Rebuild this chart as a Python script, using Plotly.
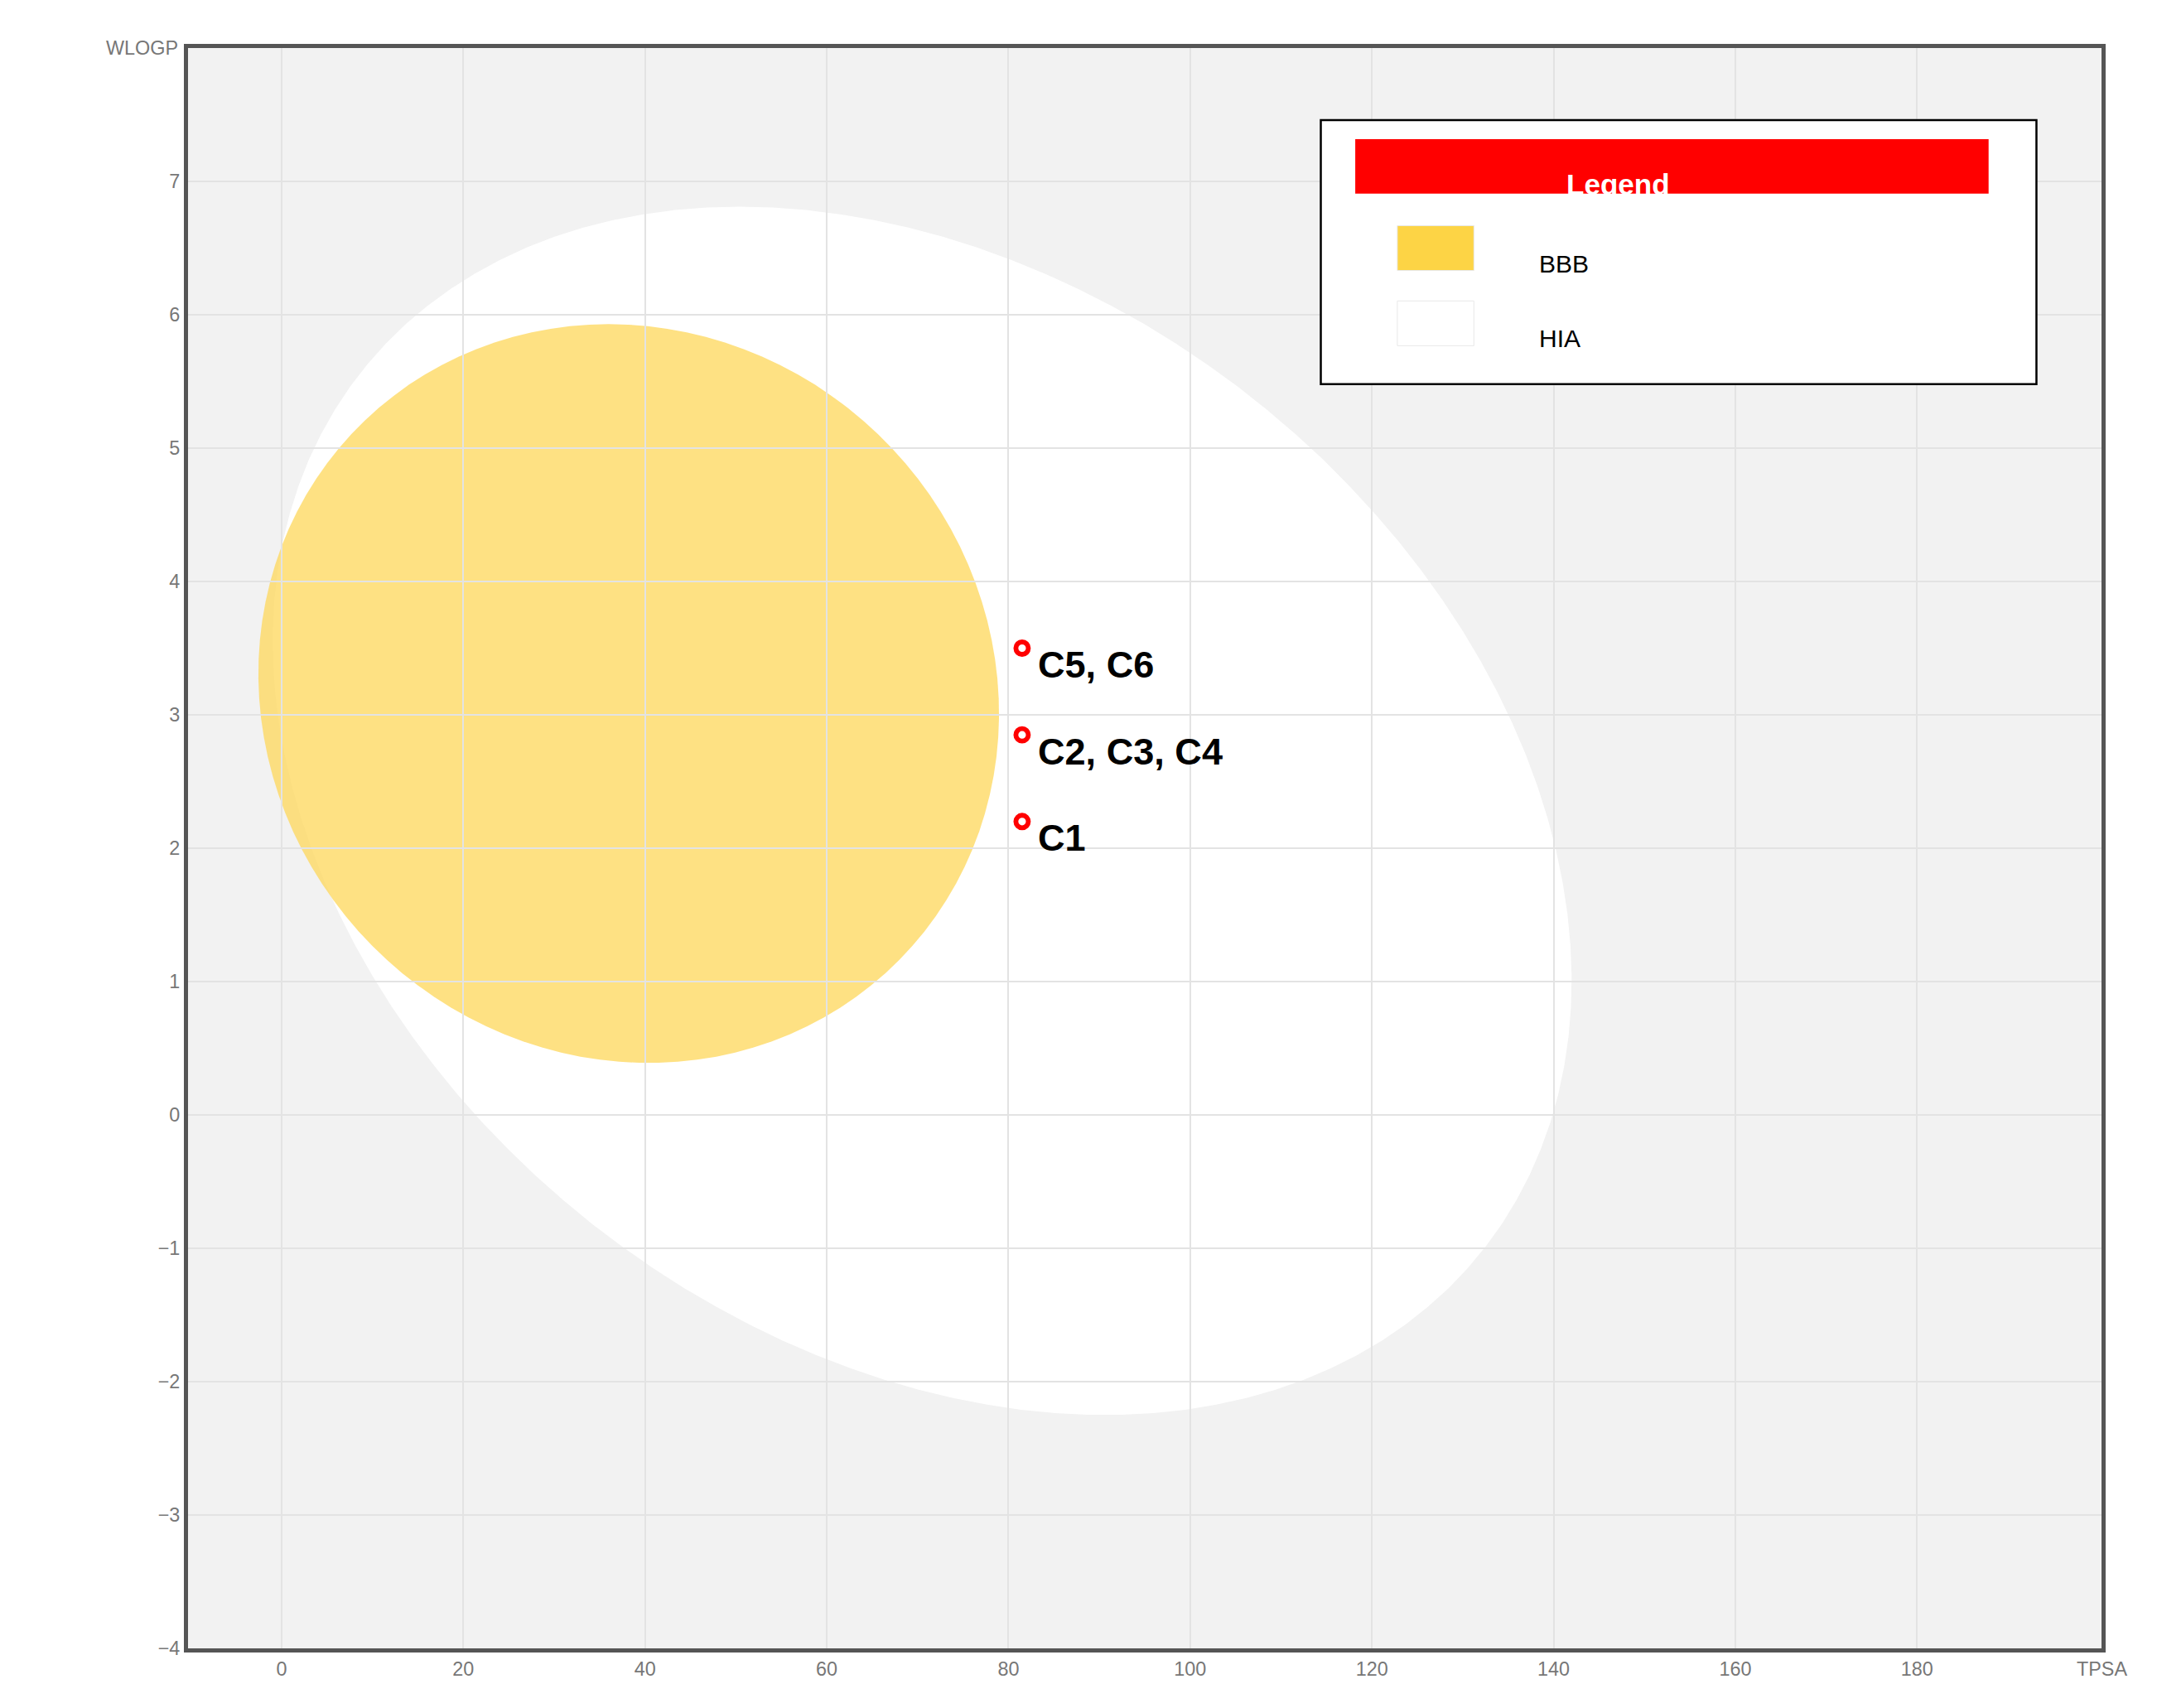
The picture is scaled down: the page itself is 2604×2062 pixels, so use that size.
import numpy as np
import plotly.graph_objects as go

# molecules (TPSA, WLOGP)
tpsa = [81.5, 81.5, 81.5]
wlogp = [3.5, 2.85, 2.2]
labels = ["C5, C6", "C2, C3, C4", "C1"]

# ellipse regions: center, conjugate half-axis vectors
bbb = dict(center=(38.2, 3.16), a=(-2.2, 2.77), b=(40.7, 0.0))
hia = dict(center=(70.5, 2.28), a=(-20.1, 4.53), b=(68.6, 0.0))

x_ticks = list(range(0, 181, 20))
y_ticks = list(range(-4, 8))

S = 1.67


def ellipse_path(e, n=120):
    t = np.linspace(0, 2 * np.pi, n)
    cx, cy = e["center"]
    xs = cx + e["a"][0] * np.cos(t) + e["b"][0] * np.sin(t)
    ys = cy + e["a"][1] * np.cos(t) + e["b"][1] * np.sin(t)
    return "M " + " L ".join(f"{x:.3f},{y:.3f}" for x, y in zip(xs, ys)) + " Z"


fig = go.Figure()
fig.add_trace(go.Scatter(
    x=tpsa, y=wlogp, mode="markers", showlegend=False,
    marker=dict(size=9 * S, color="white", line=dict(color="#ff0000", width=3.5 * S))))

fig.add_shape(type="path", path=ellipse_path(hia), fillcolor="white",
              line=dict(width=0), layer="below")
fig.add_shape(type="path", path=ellipse_path(bbb), fillcolor="rgba(253,215,90,0.75)",
              line=dict(width=0), layer="below")

for x, y, lab in zip(tpsa, wlogp, labels):
    fig.add_annotation(x=x, y=y, text=f"<b>{lab}</b>", showarrow=False,
                       xanchor="left", yanchor="middle", xshift=10 * S, yshift=-12 * S,
                       font=dict(size=27 * S, color="black", family="Arial"))

# custom legend
fig.add_shape(type="rect", xref="paper", yref="paper", x0=0.592, x1=0.966, y0=0.79, y1=0.955,
              line=dict(color="black", width=1.5 * S), fillcolor="white")
fig.add_shape(type="rect", xref="paper", yref="paper", x0=0.61, x1=0.941, y0=0.909, y1=0.943,
              line=dict(width=0), fillcolor="#ff0000")
fig.add_annotation(xref="paper", yref="paper", x=0.7755, y=0.926, text="<b>Legend</b>",
                   showarrow=False, font=dict(size=21 * S, color="white", family="Arial"))
for y0, col, lab in [(0.861, "#fdd445", "BBB"), (0.814, "white", "HIA")]:
    fig.add_shape(type="rect", xref="paper", yref="paper", x0=0.632, x1=0.672,
                  y0=y0, y1=y0 + 0.028, line=dict(color="#e8e8e8", width=1),
                  fillcolor=col)
    fig.add_annotation(xref="paper", yref="paper", x=0.705, y=y0 + 0.014, text=lab,
                       xanchor="left", showarrow=False,
                       font=dict(size=18 * S, color="black", family="Arial"))

fig.add_annotation(xref="paper", yref="paper", x=0, y=1, text="WLOGP", showarrow=False,
                   xanchor="right", yanchor="middle", xshift=-6 * S,
                   font=dict(size=14 * S, color="#777777", family="Arial"))
fig.add_annotation(xref="paper", yref="paper", x=1, y=0, text="TPSA", showarrow=False,
                   xanchor="center", yanchor="top", yshift=-6 * S,
                   font=dict(size=14 * S, color="#777777", family="Arial"))

axis_common = dict(showgrid=True, gridcolor="#e3e3e3", gridwidth=1.2 * S, zeroline=False,
                   showline=True, linecolor="#555555", linewidth=3 * S, mirror=True,
                   ticks="", tickfont=dict(size=14 * S, color="#777777", family="Arial"))
fig.update_xaxes(range=[-10.3, 200.3], tickvals=x_ticks, **axis_common)
fig.update_yaxes(range=[-4.0, 8.0], tickvals=y_ticks, **axis_common)

fig.update_layout(width=2604, height=2062, plot_bgcolor="#f2f2f2", paper_bgcolor="white",
                  margin=dict(l=219, r=75, t=50, b=80), showlegend=False)
fig.write_html("out.html")
